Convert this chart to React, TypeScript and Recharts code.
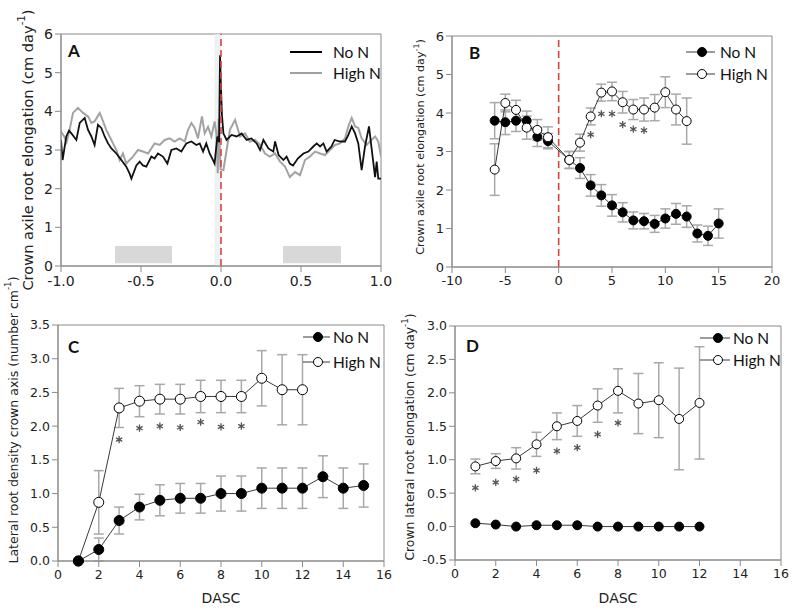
import React from "react";
import {
  ComposedChart, Line, XAxis, YAxis, ReferenceLine, ReferenceArea, ErrorBar, Scatter, Legend,
} from "recharts";

// ---- Panel A: continuous elongation trace (days relative to N supply)
const aNoNTime = [
  -1.0, -0.99, -0.967, -0.95, -0.935, -0.904, -0.883, -0.852, -0.831, -0.81, -0.79, -0.769, -0.748,
  -0.727, -0.706, -0.685, -0.654, -0.623, -0.592, -0.571, -0.56, -0.529, -0.508, -0.488, -0.467,
  -0.435, -0.415, -0.394, -0.363, -0.335, -0.31, -0.279, -0.248, -0.217, -0.185, -0.154, -0.133,
  -0.112, -0.092, -0.071, -0.05, -0.04, -0.023, -0.012, -0.006, 0.0, 0.006, 0.015, 0.035, 0.066,
  0.098, 0.129, 0.16, 0.19, 0.223, 0.244, 0.265, 0.296, 0.327, 0.338, 0.36, 0.39, 0.41, 0.43, 0.45,
  0.48, 0.515, 0.546, 0.577, 0.598, 0.619, 0.64, 0.66, 0.69, 0.71, 0.745, 0.775, 0.796, 0.817, 0.838,
  0.858, 0.879, 0.9, 0.925, 0.94, 0.963, 0.973, 0.983, 1.0,
];
const aNoN = [
  3.26, 2.74, 3.35, 3.5, 3.43, 3.26, 3.7, 3.83, 3.52, 3.35, 3.13, 3.65, 3.57,
  3.35, 3.17, 3.04, 2.91, 2.74, 2.57, 2.39, 2.26, 2.6, 2.7, 2.6, 2.57,
  2.83, 2.78, 2.91, 2.83, 2.65, 3.0, 3.04, 2.96, 3.17, 3.22, 3.13, 3.17,
  2.96, 3.17, 2.91, 2.74, 2.65, 3.35, 3.2, 5.45, 4.6, 3.9, 3.43, 3.26, 3.39,
  3.35, 3.43, 3.26, 3.3, 3.17, 3.0, 3.26, 3.04, 2.96, 3.22, 2.87, 2.74, 2.83, 2.65, 2.6,
  2.78, 2.91, 2.96, 3.09, 3.17, 3.09, 3.17, 2.96, 3.09, 3.26, 3.22, 3.22, 3.39, 3.61, 3.43,
  3.17, 2.48, 3.09, 3.61, 3.09, 2.3, 2.7, 2.26, 2.26,
];
const aHighNTime = [
  -1.0, -0.98, -0.965, -0.946, -0.925, -0.894, -0.862, -0.831, -0.81, -0.79, -0.758, -0.737, -0.717,
  -0.696, -0.675, -0.654, -0.633, -0.613, -0.592, -0.571, -0.55, -0.519, -0.488, -0.456, -0.415,
  -0.383, -0.352, -0.321, -0.29, -0.258, -0.227, -0.206, -0.185, -0.165, -0.144, -0.119, -0.102,
  -0.081, -0.06, -0.04, -0.029, -0.02, -0.014, -0.008, -0.002, 0.015, 0.035, 0.056, 0.088, 0.119,
  0.15, 0.18, 0.213, 0.244, 0.275, 0.306, 0.338, 0.369, 0.4, 0.43, 0.463, 0.494, 0.525, 0.556, 0.588,
  0.619, 0.65, 0.681, 0.713, 0.744, 0.775, 0.796, 0.817, 0.838, 0.858, 0.879, 0.91, 0.94, 0.963,
  0.983, 1.0,
];
const aHighN = [
  3.48, 3.35, 3.2, 3.52, 3.96, 4.09, 3.96, 3.87, 3.7, 3.74, 3.96, 3.74, 3.52,
  3.35, 3.17, 3.0, 2.74, 2.91, 2.65, 2.74, 2.83, 3.0, 2.96, 2.91, 3.17,
  3.13, 3.26, 3.3, 3.22, 3.3, 3.22, 3.52, 3.7, 3.57, 3.3, 3.87, 3.43,
  3.6, 3.35, 3.74, 3.43, 2.4, 3.8, 3.0, 2.5, 2.48, 3.0, 3.52, 3.78, 3.35,
  3.43, 3.22, 3.26, 3.13, 2.91, 2.83, 2.91, 2.7, 2.57, 2.3, 2.43, 2.35, 2.74, 2.83, 2.96,
  2.91, 2.87, 3.0, 3.13, 3.17, 3.3, 3.61, 3.83, 3.61, 3.57, 3.3, 3.13, 3.26, 3.35,
  3.22, 2.83,
];
const aXTicks = [-1, -0.5, 0, 0.5, 1];
const aYTicks = [0, 1, 2, 3, 4, 5, 6];
const aDarkBands = [[-0.6625, -0.306], [0.3875, 0.75]];

// ---- Panel B: daily crown axile root elongation
const bNoNDays = [-6, -5, -4, -3, -2, -1, 1, 2, 3, 4, 5, 6, 7, 8, 9, 10, 11, 12, 13, 14, 15];
const bNoN = [3.8, 3.76, 3.8, 3.8, 3.38, 3.27, 2.78, 2.57, 2.12, 1.86, 1.6, 1.42, 1.21, 1.19, 1.12, 1.26, 1.38, 1.31, 0.87, 0.81, 1.13];
const bNoNErr = [0.47, 0.32, 0.28, 0.25, 0.25, 0.2, 0.22, 0.27, 0.28, 0.28, 0.28, 0.25, 0.22, 0.2, 0.22, 0.25, 0.27, 0.28, 0.22, 0.25, 0.38];
const bHighNDays = [-6, -5, -4, -3, -2, -1, 1, 2, 3, 4, 5, 6, 7, 8, 9, 10, 11, 12];
const bHighN = [2.53, 4.26, 4.08, 3.62, 3.56, 3.37, 2.78, 3.23, 3.91, 4.53, 4.56, 4.28, 4.09, 4.09, 4.14, 4.54, 4.09, 3.79];
const bHighNErr = [0.67, 0.23, 0.25, 0.3, 0.27, 0.27, 0.22, 0.22, 0.22, 0.22, 0.24, 0.28, 0.26, 0.3, 0.34, 0.4, 0.4, 0.6];
const bStarDays = [3, 4, 5, 6, 7, 8];
const bStarY = [3.44, 3.98, 3.98, 3.7, 3.58, 3.55];
const bXTicks = [-10, -5, 0, 5, 10, 15, 20];
const bYTicks = [0, 1, 2, 3, 4, 5, 6];

// ---- Panel C: lateral root density
const cNoNDays = [1, 2, 3, 4, 5, 6, 7, 8, 9, 10, 11, 12, 13, 14, 15];
const cNoN = [0, 0.17, 0.6, 0.8, 0.9, 0.93, 0.93, 1.0, 1.0, 1.08, 1.08, 1.08, 1.25, 1.08, 1.12];
const cNoNErr = [0, 0.17, 0.2, 0.19, 0.23, 0.22, 0.22, 0.26, 0.26, 0.3, 0.3, 0.3, 0.31, 0.3, 0.32];
const cHighNDays = [1, 2, 3, 4, 5, 6, 7, 8, 9, 10, 11, 12];
const cHighN = [0, 0.87, 2.27, 2.37, 2.4, 2.4, 2.44, 2.44, 2.44, 2.71, 2.54, 2.54];
const cHighNErr = [0, 0.47, 0.29, 0.23, 0.22, 0.22, 0.24, 0.24, 0.24, 0.41, 0.52, 0.52];
const cStarDays = [3, 4, 5, 6, 7, 8, 9];
const cStarY = [1.8, 1.97, 2.0, 1.98, 2.06, 1.99, 2.0];
const cXTicks = [0, 2, 4, 6, 8, 10, 12, 14, 16];
const cYTicks = [0, 0.5, 1, 1.5, 2, 2.5, 3, 3.5];

// ---- Panel D: crown lateral root elongation
const dNoNDays = [1, 2, 3, 4, 5, 6, 7, 8, 9, 10, 11, 12];
const dNoN = [0.05, 0.03, 0.0, 0.02, 0.02, 0.02, 0.0, 0.0, 0.0, 0.0, 0.0, 0.0];
const dHighNDays = [1, 2, 3, 4, 5, 6, 7, 8, 9, 10, 11, 12];
const dHighN = [0.9, 0.98, 1.02, 1.23, 1.5, 1.58, 1.81, 2.03, 1.84, 1.89, 1.61, 1.85];
const dHighNErr = [0.11, 0.11, 0.16, 0.18, 0.2, 0.23, 0.25, 0.33, 0.45, 0.56, 0.76, 0.84];
const dStarDays = [1, 2, 3, 4, 5, 6, 7, 8];
const dStarY = [0.58, 0.66, 0.71, 0.84, 1.13, 1.18, 1.38, 1.55];
const dXTicks = [0, 2, 4, 6, 8, 10, 12, 14, 16];
const dYTicks = [-0.5, 0, 0.5, 1, 1.5, 2, 2.5, 3];

const rows = (xs: number[], ys: number[], errs?: number[]) =>
  xs.map((x, i) => ({ x, y: ys[i], err: errs ? errs[i] : 0 }));

const FONT = "'DejaVu Sans', sans-serif";
const LEGEND_FONT = "Lato, 'Noto Sans', sans-serif";
const GRID = "#8a8a8a";
const ERR = "#a8a8a8";
const LINE = "#3a3a3a";
const RED = "#d9443a";

const tick = (size: number) => ({ fontFamily: FONT, fontSize: size, fill: "#222" });

// significance asterisk, drawn as a six-armed mark
const Star = (p: any) => {
  const { cx, cy } = p;
  const r = 3.6;
  const dx = r * 0.87;
  const dy = r / 2;
  return (
    <path
      d={`M${cx} ${cy - r}V${cy + r}M${cx - dx} ${cy - dy}L${cx + dx} ${cy + dy}M${cx - dx} ${cy + dy}L${cx + dx} ${cy - dy}`}
      stroke="#555" strokeWidth={1.3} fill="none"
    />
  );
};

function AxisTitle({ x, y, size, text, letter, lx, ly }: any) {
  return (
    <g>
      <text
        x={x} y={y} transform={`rotate(-90 ${x} ${y})`} textAnchor="middle" dominantBaseline="central"
        fontFamily={FONT} fontSize={size} fill="#222"
      >
        {text}
        <tspan dy={-size * 0.4} fontSize={size * 0.7}>-1</tspan>
        <tspan dy={size * 0.4}>)</tspan>
      </text>
      <text x={lx} y={ly} fontFamily={LEGEND_FONT} fontWeight={700} fontSize={17} fill="#111">{letter}</text>
    </g>
  );
}

function LegendBox({ marker, x1, x2, cx, tx, y1, y2 }: any) {
  const items = [
    { label: "No N", color: "#000", fill: "#000" },
    { label: "High N", color: marker ? "#000" : "#a0a0a0", fill: "#fff" },
  ];
  return (
    <svg width={110} height={y2 + 12}>
      {items.map((it, i) => {
        const y = i === 0 ? y1 : y2;
        return (
          <g key={it.label}>
            <line x1={x1} x2={x2} y1={y} y2={y} stroke={marker ? LINE : it.color} strokeWidth={marker ? 1 : 2} />
            {marker && <circle cx={cx} cy={y} r={4.5} fill={it.fill} stroke="#000" strokeWidth={1} />}
            <text x={tx} y={y} dominantBaseline="central" fontFamily={LEGEND_FONT} fontSize={15.5} fill="#111">{it.label}</text>
          </g>
        );
      })}
    </svg>
  );
}

function PanelA() {
  return (
    <ComposedChart width={400} height={300} margin={{ top: 34, right: 19, left: 21, bottom: 4 }}>
      <XAxis
        type="number" dataKey="x" domain={[-1, 1]} ticks={aXTicks} tickFormatter={(v) => v.toFixed(1)}
        tick={tick(14)} tickMargin={4} height={30} stroke={GRID} allowDataOverflow
      />
      <YAxis
        type="number" domain={[0, 6]} ticks={aYTicks} tick={tick(14)} width={40} stroke={GRID}
        label={() => (
          <AxisTitle x={27} y={150} size={14.6} text="Crown axile root elongation (cm day" letter="A" lx={68} ly={57} />
        )}
      />
      <ReferenceArea x1={-1} x2={1} y1={0} y2={6} fill="none" stroke={GRID} />
      <ReferenceArea x1={-0.04} x2={0} y1={0} y2={6} fill="#e6edf3" fillOpacity={0.8} stroke="none" />
      {aDarkBands.map(([s, e]) => (
        <ReferenceArea key={s} x1={s} x2={e} y1={0.07} y2={0.52} fill="#d8d8d8" fillOpacity={1} stroke="none" />
      ))}
      <Line data={rows(aHighNTime, aHighN)} dataKey="y" stroke="#a3a3a3" strokeWidth={2} dot={false} isAnimationActive={false} />
      <Line data={rows(aNoNTime, aNoN)} dataKey="y" stroke="#111" strokeWidth={1.8} dot={false} isAnimationActive={false} />
      <ReferenceLine x={0} stroke={RED} strokeWidth={1.6} strokeDasharray="7 4" />
      <Legend
        layout="horizontal" verticalAlign="middle" align="center"
        wrapperStyle={{ left: 288, top: 42, width: 110 }}
        content={() => <LegendBox x1={2} x2={34} tx={45} y1={10} y2={31} />}
      />
    </ComposedChart>
  );
}

function PanelB() {
  return (
    <ComposedChart width={400} height={300} margin={{ top: 36, right: 28, left: 22, bottom: 3 }}>
      <XAxis
        type="number" dataKey="x" domain={[-10, 20]} ticks={bXTicks} tick={tick(13)} tickMargin={3}
        height={30} stroke={GRID}
      />
      <YAxis
        type="number" domain={[0, 6]} ticks={bYTicks} tick={tick(13)} width={30} stroke={GRID}
        label={() => (
          <AxisTitle x={20} y={147} size={11.2} text="Crown axile root elongation (cm day" letter="B" lx={69} ly={59} />
        )}
      />
      <ReferenceArea x1={-10} x2={20} y1={0} y2={6} fill="none" stroke={GRID} />
      <ReferenceLine x={0} stroke={RED} strokeWidth={1.6} strokeDasharray="7 4" />
      <Line data={rows(bNoNDays, bNoN, bNoNErr)} dataKey="y" stroke={LINE} strokeWidth={1}
        dot={{ r: 4.5, fill: "#000", stroke: "#000", strokeWidth: 1 }} isAnimationActive={false}>
        <ErrorBar dataKey="err" direction="y" width={5} stroke={ERR} strokeWidth={1.5} />
      </Line>
      <Line data={rows(bHighNDays, bHighN, bHighNErr)} dataKey="y" stroke={LINE} strokeWidth={1}
        dot={{ r: 4.5, fill: "#fff", stroke: "#000", strokeWidth: 1 }} isAnimationActive={false}>
        <ErrorBar dataKey="err" direction="y" width={5} stroke={ERR} strokeWidth={1.5} />
      </Line>
      <Scatter data={rows(bStarDays, bStarY)} dataKey="y" shape={Star} isAnimationActive={false} />
      <Legend
        layout="horizontal" verticalAlign="middle" align="center"
        wrapperStyle={{ left: 284, top: 42, width: 110 }}
        content={() => <LegendBox marker x1={2} x2={31} cx={18} tx={36} y1={10} y2={32} />}
      />
    </ComposedChart>
  );
}

function PanelC() {
  return (
    <ComposedChart width={400} height={342} margin={{ top: 55, right: 16, left: 18, bottom: 11 }}>
      <XAxis
        type="number" dataKey="x" domain={[0, 16]} ticks={cXTicks} tick={tick(12.5)} tickMargin={3}
        height={40} stroke={GRID}
        label={() => (
          <text x={221} y={328} textAnchor="middle" dominantBaseline="central" fontFamily={FONT} fontSize={14} fill="#222">DASC</text>
        )}
      />
      <YAxis
        type="number" domain={[0, 3.5]} ticks={cYTicks} tickFormatter={(v) => v.toFixed(1)} tick={tick(12.5)}
        width={40} stroke={GRID}
        label={() => (
          <AxisTitle x={13} y={150} size={12.5} text="Lateral root density crown axis (number cm" letter="C" lx={68} ly={83} />
        )}
      />
      <ReferenceArea x1={0} x2={16} y1={0} y2={3.5} fill="none" stroke={GRID} />
      <Line data={rows(cHighNDays, cHighN, cHighNErr)} dataKey="y" stroke={LINE} strokeWidth={1}
        dot={{ r: 5, fill: "#fff", stroke: "#000", strokeWidth: 1 }} isAnimationActive={false}>
        <ErrorBar dataKey="err" direction="y" width={5} stroke={ERR} strokeWidth={1.5} />
      </Line>
      <Line data={rows(cNoNDays, cNoN, cNoNErr)} dataKey="y" stroke={LINE} strokeWidth={1}
        dot={{ r: 5, fill: "#000", stroke: "#000", strokeWidth: 1 }} isAnimationActive={false}>
        <ErrorBar dataKey="err" direction="y" width={5} stroke={ERR} strokeWidth={1.5} />
      </Line>
      <Scatter data={rows(cStarDays, cStarY)} dataKey="y" shape={Star} isAnimationActive={false} />
      <Legend
        layout="horizontal" verticalAlign="middle" align="center"
        wrapperStyle={{ left: 301, top: 57, width: 110 }}
        content={() => <LegendBox marker x1={2} x2={29} cx={17} tx={32} y1={10} y2={35} />}
      />
    </ComposedChart>
  );
}

function PanelD() {
  return (
    <ComposedChart width={400} height={342} margin={{ top: 56, right: 19, left: 15, bottom: 12 }}>
      <XAxis
        type="number" dataKey="x" domain={[0, 16]} ticks={dXTicks} tick={tick(12.5)} tickMargin={3}
        height={40} stroke={GRID}
        label={() => (
          <text x={218} y={328} textAnchor="middle" dominantBaseline="central" fontFamily={FONT} fontSize={14} fill="#222">DASC</text>
        )}
      />
      <YAxis
        type="number" domain={[-0.5, 3]} ticks={dYTicks} tickFormatter={(v) => v.toFixed(1)} tick={tick(12.5)}
        width={40} stroke={GRID}
        label={() => (
          <AxisTitle x={10} y={167} size={12.3} text="Crown lateral root elongation (cm day" letter="D" lx={66} ly={82} />
        )}
      />
      <ReferenceArea x1={0} x2={16} y1={-0.5} y2={3} fill="none" stroke={GRID} />
      <Line data={rows(dHighNDays, dHighN, dHighNErr)} dataKey="y" stroke={LINE} strokeWidth={1}
        dot={{ r: 4.5, fill: "#fff", stroke: "#000", strokeWidth: 1 }} isAnimationActive={false}>
        <ErrorBar dataKey="err" direction="y" width={5} stroke={ERR} strokeWidth={1.5} />
      </Line>
      <Line data={rows(dNoNDays, dNoN)} dataKey="y" stroke={LINE} strokeWidth={1}
        dot={{ r: 4.5, fill: "#000", stroke: "#000", strokeWidth: 1 }} isAnimationActive={false} />
      <Scatter data={rows(dStarDays, dStarY)} dataKey="y" shape={Star} isAnimationActive={false} />
      <Legend
        layout="horizontal" verticalAlign="middle" align="center"
        wrapperStyle={{ left: 298, top: 58, width: 110 }}
        content={() => <LegendBox marker x1={2} x2={32} cx={20} tx={35} y1={10} y2={32} />}
      />
    </ComposedChart>
  );
}

export default function App() {
  return (
    <div style={{ position: "absolute", left: 0, top: 0, width: 800, height: 612, background: "#fff", overflow: "hidden" }}>
      <div style={{ position: "absolute", left: 0, top: 0 }}><PanelA /></div>
      <div style={{ position: "absolute", left: 400, top: 0 }}><PanelB /></div>
      <div style={{ position: "absolute", left: 0, top: 270 }}><PanelC /></div>
      <div style={{ position: "absolute", left: 400, top: 270 }}><PanelD /></div>
    </div>
  );
}
